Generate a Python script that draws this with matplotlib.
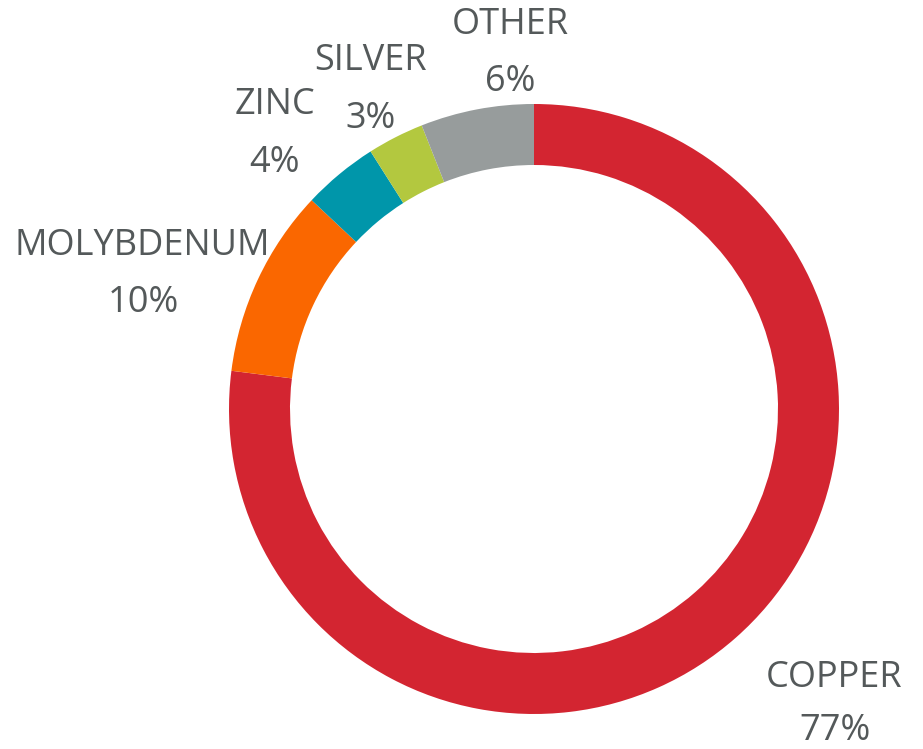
import matplotlib.pyplot as plt

W, H = 923, 749

metals = ["COPPER", "MOLYBDENUM", "ZINC", "SILVER", "OTHER"]
shares = [77, 10, 4, 3, 6]
colors = ["#D32531", "#FA6700", "#0096AA", "#B3C83F", "#979C9C"]

# label anchor points in pixel space (x, y from top) for name / percent lines
name_pos = [(834, 678), (142, 246), (275, 105), (370, 61), (510, 25)]
pct_pos = [(835, 731), (143, 303), (275, 163), (371, 119), (510, 82)]

TEXT_COLOR = "#54595A"
FONT = "Open Sans"

fig = plt.figure(figsize=(W / 100, H / 100), dpi=100)
ax = fig.add_axes([0, 0, 1, 1])

ax.pie(
    shares,
    colors=colors,
    startangle=90,
    counterclock=False,
    center=(534, H - 409),
    radius=305,
    wedgeprops=dict(width=61, linewidth=0),
)
ax.set_xlim(0, W)
ax.set_ylim(0, H)
ax.set_aspect("equal")
ax.axis("off")

for name, share, (nx, ny), (px, py) in zip(metals, shares, name_pos, pct_pos):
    ax.text(nx, H - ny, name, ha="center", va="center", fontsize=26,
            color=TEXT_COLOR, family=FONT)
    ax.text(px, H - py, f"{share}%", ha="center", va="center", fontsize=26,
            color=TEXT_COLOR, family=FONT)

fig.savefig("out.png", dpi=100)
plt.close(fig)
